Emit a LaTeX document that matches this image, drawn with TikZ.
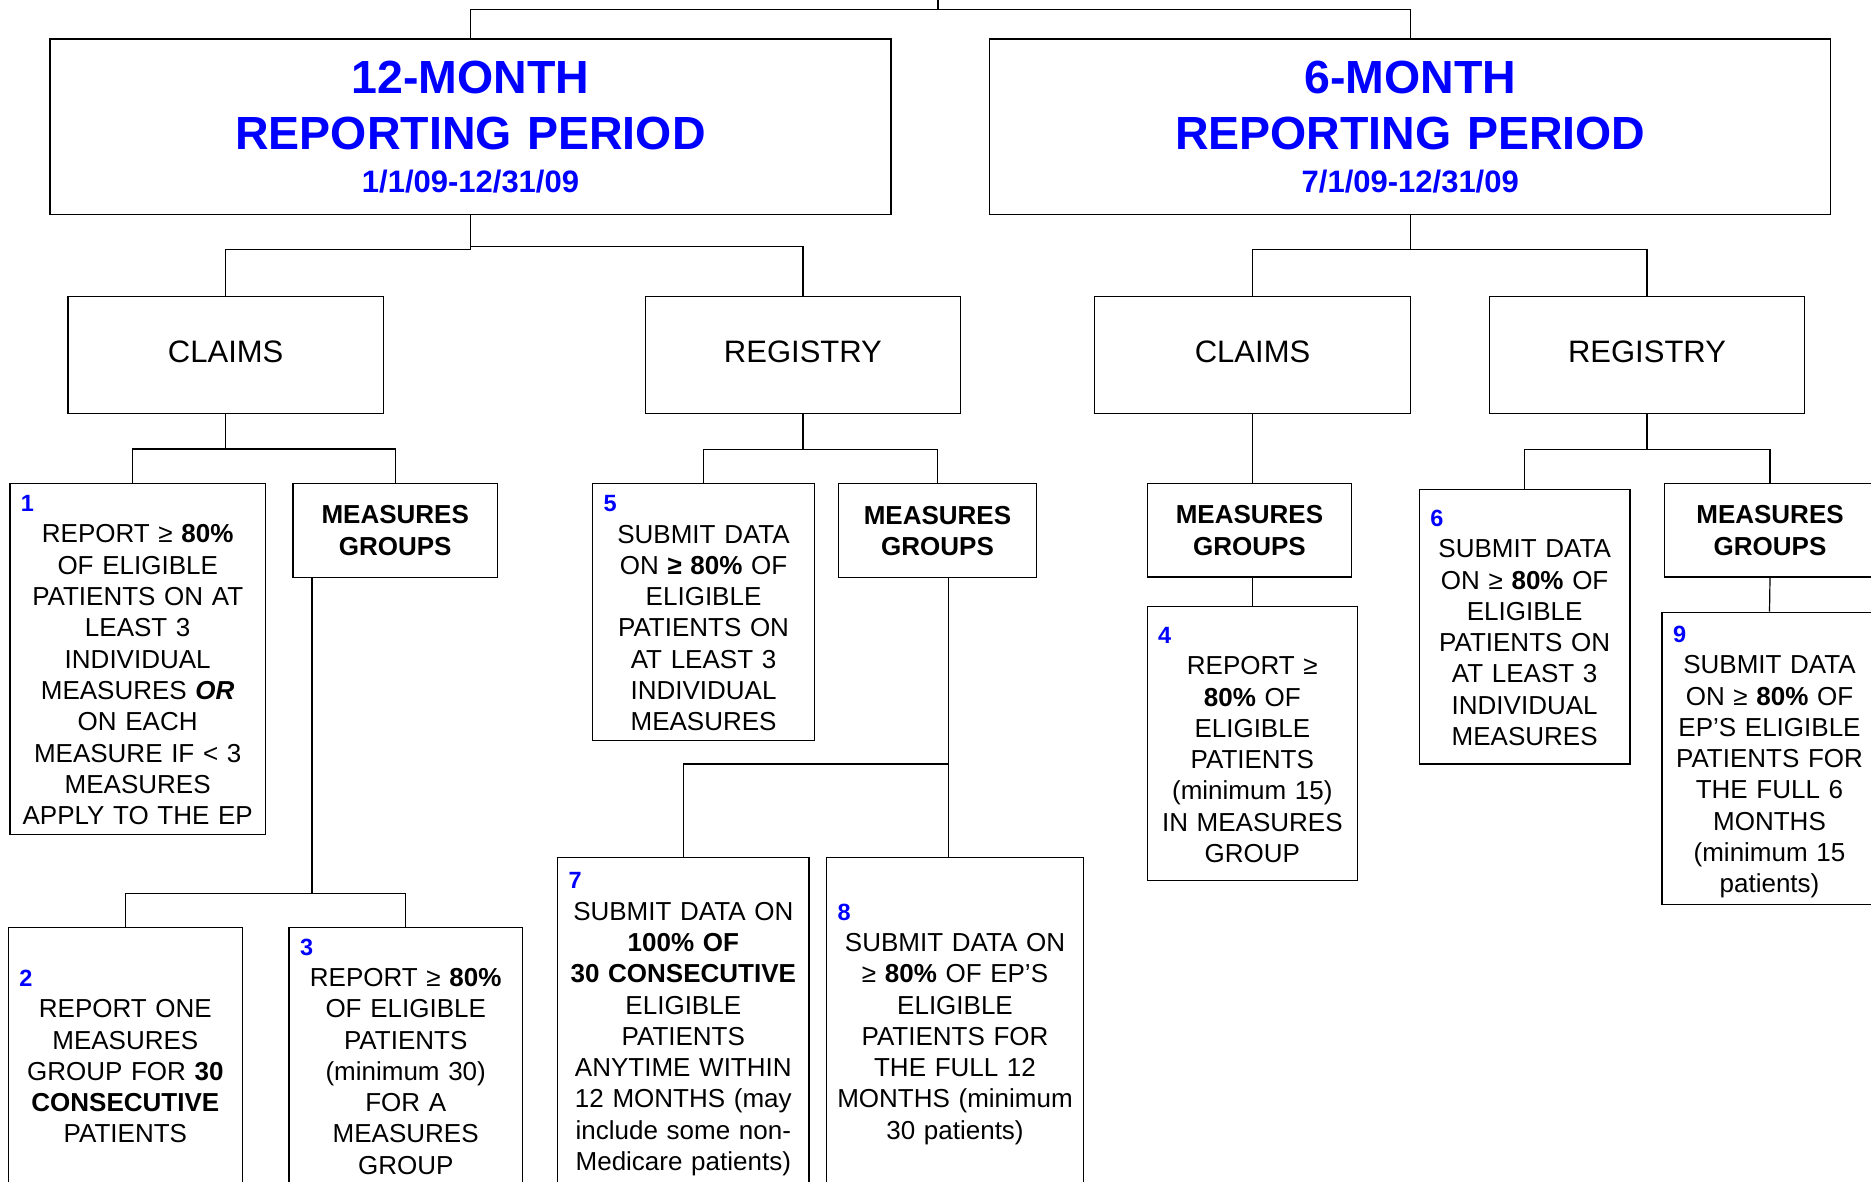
\documentclass[tikz,border=0pt]{standalone}
\usepackage{fontspec}
\setmainfont{Liberation Sans}
\definecolor{refblue}{RGB}{0,0,255}
\newcommand\lns{\rule[-6.35pt]{0pt}{31.3pt}}
\newcommand\numline[1]{\makebox[\linewidth][l]{\hspace*{9pt}\fontsize{23.5}{27}\selectfont\bfseries\color{refblue}#1}\\}

\begin{document}
\begin{tikzpicture}[x=1pt,y=-1pt,line width=1.2pt,
    period/.style={draw,inner sep=0pt,align=center,text=refblue,font=\fontsize{46.5}{55.4}\selectfont\bfseries,
        text width=800pt,minimum width=841pt,minimum height=175.3pt},
    head/.style={draw,inner sep=0pt,font=\fontsize{31}{37}\selectfont,minimum width=315.5pt,minimum height=117pt,
        text height=23.1pt,text depth=6.9pt},
    leaf/.style 2 args={draw,inner sep=0pt,align=center,font=\fontsize{26}{31.3}\selectfont,
        minimum width=#1,minimum height=#2,text width=#1-4pt,
        execute at begin node=\lns,execute at end node=\lns},
    mgroup/.style 2 args={leaf={#1}{#2},font=\fontsize{26}{31.3}\selectfont\bfseries}]
            \useasboundingbox (0,0) rectangle (1871,1182);
            \clip (0,0) rectangle (1871,1182);
            \node [period] (p12) at (470.5,126.65) {\rule{0pt}{45pt}12-MONTH\\REPORTING PERIOD\\[-11.9pt]{\fontsize{31}{37}\selectfont 1/1/09-12/31/09}\rule[-11.6pt]{0pt}{11.6pt}};
            \node [period] (p6) at (1410.25,126.65) {\rule{0pt}{45pt}6-MONTH\\REPORTING PERIOD\\[-11.9pt]{\fontsize{31}{37}\selectfont 7/1/09-12/31/09}\rule[-11.6pt]{0pt}{11.6pt}};
            \node [head] (claimsA) at (225.7,354.8) {CLAIMS};
            \node [head] (regA) at (802.9,354.8) {REGISTRY};
            \node [head] (claimsB) at (1252.55,354.8) {CLAIMS};
            \node [head] (regB) at (1647,354.8) {REGISTRY};
            \node [leaf={255.4pt}{351pt}] (b1) at (137.7,658.8) {\numline{1}REPORT ≥ \textbf{80\%}\\OF ELIGIBLE\\PATIENTS ON AT\\LEAST 3\\INDIVIDUAL\\MEASURES \textbf{\textit{OR}}\\ON EACH\\MEASURE IF < 3\\MEASURES\\APPLY TO THE EP};
            \node [mgroup={204.6pt}{94pt}] (mgA) at (395.2,530.3) {MEASURES\\GROUPS};
            \node [leaf={233.9pt}{255.3pt}] (b2) at (125.35,1055.35) {\numline{2}REPORT ONE\\MEASURES\\GROUP FOR \textbf{30}\\\textbf{CONSECUTIVE}\\PATIENTS};
            \node [leaf={233.4pt}{255.3pt}] (b3) at (405.7,1055.35) {\numline{3}REPORT ≥ \textbf{80\%}\\OF ELIGIBLE\\PATIENTS\\(minimum 30)\\FOR A\\MEASURES\\GROUP};
            \node [leaf={222.1pt}{257.4pt}] (b5) at (703.55,612) {\numline{5}SUBMIT DATA\\ON \textbf{≥ 80\%} OF\\ELIGIBLE\\PATIENTS ON\\AT LEAST 3\\INDIVIDUAL\\MEASURES};
            \node [mgroup={198.6pt}{94.4pt}] (mgM) at (937.5,530.5) {MEASURES\\GROUPS};
            \node [leaf={251.4pt}{325.3pt}] (b7) at (683.3,1020.35) {\numline{7}SUBMIT DATA ON\\\textbf{100\% OF}\\\textbf{30 CONSECUTIVE}\\ELIGIBLE\\PATIENTS\\ANYTIME WITHIN\\12 MONTHS (may\\include some non-\\Medicare patients)};
            \node [leaf={256.8pt}{325.3pt}] (b8) at (955,1020.35) {\numline{8}SUBMIT DATA ON\\≥ \textbf{80\%} OF EP’S\\ELIGIBLE\\PATIENTS FOR\\THE FULL 12\\MONTHS (minimum\\30 patients)};
            \node [mgroup={204.7pt}{93.7pt}] (mgB) at (1249.45,530.15) {MEASURES\\GROUPS};
            \node [leaf={210.4pt}{273.9pt}] (b4) at (1252.3,743.65) {\numline{4}REPORT ≥\\\textbf{80\%} OF\\ELIGIBLE\\PATIENTS\\(minimum 15)\\IN MEASURES\\GROUP};
            \node [leaf={210.7pt}{274.7pt}] (b6) at (1524.65,626.65) {\numline{6}SUBMIT DATA\\ON ≥ \textbf{80\%} OF\\ELIGIBLE\\PATIENTS ON\\AT LEAST 3\\INDIVIDUAL\\MEASURES};
            \node [mgroup={211.4pt}{93.7pt}] (mgC) at (1770,530.15) {MEASURES\\GROUPS};
            \node [leaf={215pt}{292pt}] (b9) at (1769.5,758.3) {\numline{9}SUBMIT DATA\\ON ≥ \textbf{80\%} OF\\EP’S ELIGIBLE\\PATIENTS FOR\\THE FULL 6\\MONTHS\\(minimum 15\\patients)};
            \coordinate (root) at (938,0);
            \draw [black] (root) -- ++(0,9.3) coordinate (rootbar) -| (p12.north);
            \draw [black] (rootbar) -| (p6.north);
            \draw [black] (p12.south) -- ++(0,35) -| (claimsA.north);
            \draw [black] (p12.south) -- ++(0,32) -| (regA.north);
            \draw [black] (p6.south) -- ++(0,35) -| (claimsB.north);
            \draw [black] (p6.south) -- ++(0,35) -| (regB.north);
            \coordinate (b1top) at ([xshift=-5.2pt]b1.north);
            \draw [black] (claimsA.south) -- ++(0,35) -| (b1top);
            \draw [black] (claimsA.south) -- ++(0,35) -| (mgA.north);
            \draw [black] (regA.south) -- ++(0,35.4) -| (b5.north);
            \draw [black] (regA.south) -- ++(0,35.4) -| (mgM.north);
            \draw [black] (claimsB.south) -- (claimsB.south |- mgB.north);
            \draw [black] (claimsB.south |- mgB.south) -- (claimsB.south |- b4.north);
            \draw [black] (regB.south) -- ++(0,35.4) -| (b6.north);
            \draw [black] (regB.south) -- ++(0,35.4) -| (mgC.north);
            \draw [black] (mgC.south) -- (b9.north);
            \coordinate (mgAfoot) at ([xshift=19.6pt]mgA.south west);
            \draw [black] (mgAfoot) -- ++(0,315.4) -| (b2.north);
            \draw [black] (mgAfoot) -- ++(0,315.4) -| (b3.north);
            \coordinate (mgMfoot) at ([xshift=10.7pt]mgM.south);
            \draw [black] (mgMfoot) -- ++(0,185.6) -| (b7.north);
            \draw [black] (mgMfoot) -- (mgMfoot |- b8.north);
        \end{tikzpicture}
\end{document}
